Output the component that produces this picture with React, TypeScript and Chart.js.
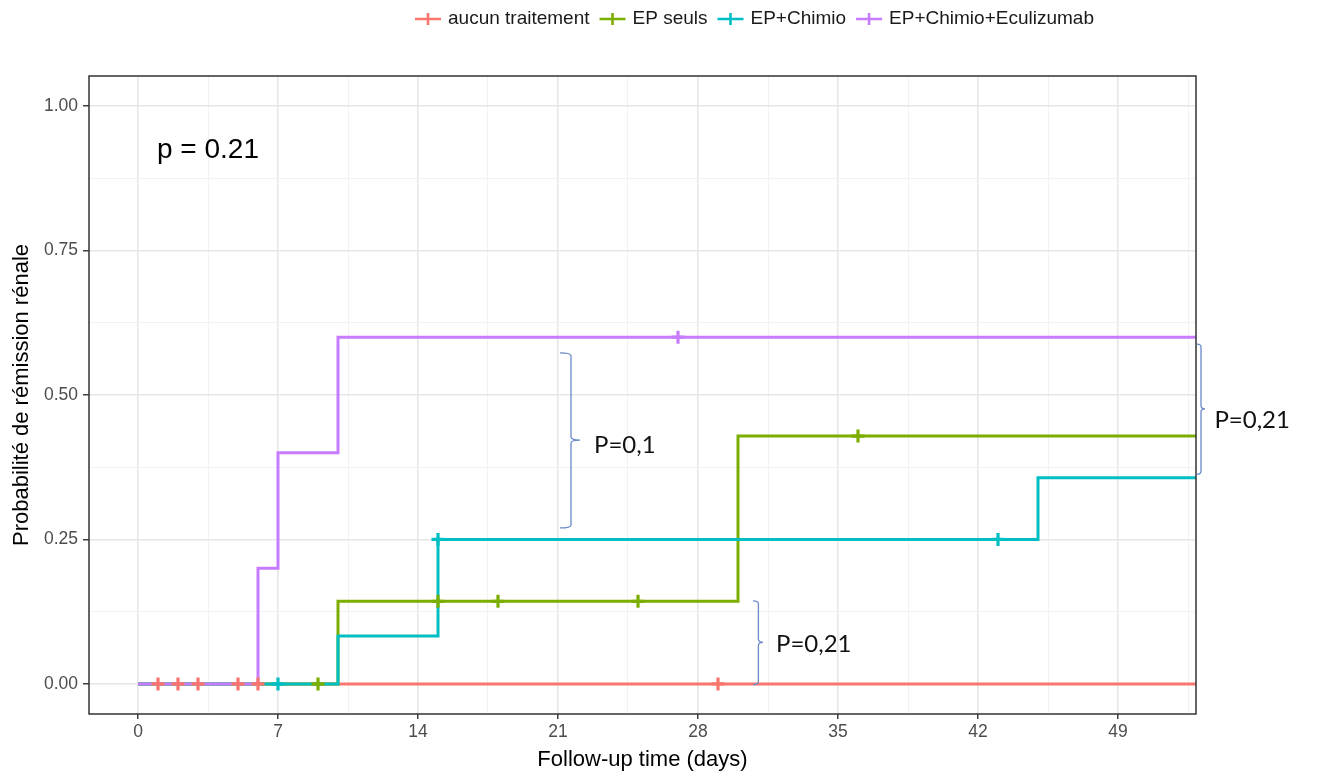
import React, { useEffect, useRef } from "react";
import { Chart, registerables } from "chart.js";

Chart.register(...registerables);

const W = 1317;
const H = 776;

// ---- series ----
const seriesNames = ["aucun traitement", "EP seuls", "EP+Chimio", "EP+Chimio+Eculizumab"];
const seriesColors = ["#F8766D", "#7CAE00", "#00BFC4", "#C77CFF"];

const followUpEnd = 53;

// step times (value changes at the time) and probabilities
const redTimes = [0];
const redSurv = [0];
const greenTimes = [0, 10, 30];
const greenSurv = [0, 0.143, 0.429];
const cyanTimes = [0, 10, 15, 45];
const cyanSurv = [0, 0.083, 0.25, 0.357];
const purpleTimes = [0, 6, 7, 10];
const purpleSurv = [0, 0.2, 0.4, 0.6];

// censored observations
const redCensorTimes = [1, 2, 3, 5, 6, 29];
const redCensorSurv = [0, 0, 0, 0, 0, 0];
const greenCensorTimes = [9, 15, 18, 25, 36];
const greenCensorSurv = [0, 0.143, 0.143, 0.143, 0.429];
const cyanCensorTimes = [7, 15, 43];
const cyanCensorSurv = [0, 0.25, 0.25];
const purpleCensorTimes = [27];
const purpleCensorSurv = [0.6];

// ---- axes ----
const xMajorTicks = [0, 7, 14, 21, 28, 35, 42, 49];
const xTickLabels = ["0", "7", "14", "21", "28", "35", "42", "49"];
const xMinorTicks = [3.5, 10.5, 17.5, 24.5, 31.5, 38.5, 45.5, 52.5];
const yMajorTicks = [0, 0.25, 0.5, 0.75, 1];
const yTickLabels = ["0.00", "0.25", "0.50", "0.75", "1.00"];
const yMinorTicks = [0.125, 0.375, 0.625, 0.875];

const xTitle = "Follow-up time (days)";
const yTitle = "Probabilité de rémission rénale";
const pValueText = "p = 0.21";

// annotations (data coordinates)
const pValuePos = { x: 0.95, y: 0.924 };
const braces = [
  { tipX: 21.1, spineX: 21.65, top: 0.573, bottom: 0.27, mid: 0.422, pointX: 22.1, label: "P=0,1", labelX: 22.8, labelY: 0.413 },
  { tipX: 30.75, spineX: 31.02, top: 0.1436, bottom: -0.001, mid: 0.072, pointX: 31.25, label: "P=0,21", labelX: 31.9, labelY: 0.068 },
  { tipX: 52.95, spineX: 53.15, top: 0.588, bottom: 0.363, mid: 0.476, pointX: 53.35, label: "P=0,21", labelX: 53.82, labelY: 0.457 },
];

const stepPoints = (times: number[], surv: number[]) =>
  times.map((t, i) => ({ x: t, y: surv[i] })).concat([{ x: followUpEnd, y: surv[surv.length - 1] }]);
const censorPoints = (times: number[], surv: number[]) => times.map((t, i) => ({ x: t, y: surv[i] }));

const isXMajor = (v: number) => xMajorTicks.indexOf(v) >= 0;
const isYMajor = (v: number) => yMajorTicks.some((m) => Math.abs(m - v) < 1e-9);

const FONT = "'Liberation Sans', Arial, sans-serif";

const overlayPlugin = {
  id: "overlay",
  afterDraw(chart: any) {
    const { ctx, chartArea, scales } = chart;
    const xs = scales.x;
    const ys = scales.y;
    ctx.save();
    // panel border
    ctx.strokeStyle = "#333333";
    ctx.lineWidth = 1.5;
    ctx.strokeRect(chartArea.left, chartArea.top, chartArea.right - chartArea.left, chartArea.bottom - chartArea.top);

    // p value
    ctx.fillStyle = "#000";
    ctx.font = `28px ${FONT}`;
    ctx.textAlign = "left";
    ctx.textBaseline = "middle";
    ctx.fillText(pValueText, xs.getPixelForValue(pValuePos.x), ys.getPixelForValue(pValuePos.y));

    // braces
    braces.forEach((b) => {
      const xl = xs.getPixelForValue(b.tipX);
      const xv = xs.getPixelForValue(b.spineX);
      const xp = xs.getPixelForValue(b.pointX);
      const yt = ys.getPixelForValue(b.top);
      const yb = ys.getPixelForValue(b.bottom);
      const ym = ys.getPixelForValue(b.mid);
      const r = 3;
      ctx.beginPath();
      ctx.moveTo(xl, yt);
      ctx.quadraticCurveTo(xv, yt, xv, yt + r);
      ctx.lineTo(xv, ym - r);
      ctx.quadraticCurveTo(xv, ym, xp, ym);
      ctx.quadraticCurveTo(xv, ym, xv, ym + r);
      ctx.lineTo(xv, yb - r);
      ctx.quadraticCurveTo(xv, yb, xl, yb);
      ctx.strokeStyle = "#6A8AC8";
      ctx.lineWidth = 1.3;
      ctx.stroke();
      ctx.fillStyle = "#111";
      ctx.font = `24px Lato, 'Open Sans', sans-serif`;
      ctx.textAlign = "left";
      ctx.textBaseline = "middle";
      ctx.fillText(b.label, xs.getPixelForValue(b.labelX), ys.getPixelForValue(b.labelY));
    });

    // legend
    ctx.font = `19px ${FONT}`;
    ctx.textBaseline = "middle";
    let x = 415;
    const y = 19;
    seriesNames.forEach((name, i) => {
      const col = seriesColors[i];
      ctx.strokeStyle = col;
      ctx.lineWidth = 2.6;
      ctx.beginPath();
      ctx.moveTo(x, y);
      ctx.lineTo(x + 26, y);
      ctx.moveTo(x + 13, y - 6);
      ctx.lineTo(x + 13, y + 6);
      ctx.stroke();
      ctx.fillStyle = "#1a1a1a";
      ctx.fillText(name, x + 33, y);
      x += 33 + ctx.measureText(name).width + 10;
    });
    ctx.restore();
  },
};

export default function App() {
  const ref = useRef<HTMLCanvasElement>(null);

  useEffect(() => {
    const canvas = ref.current;
    if (!canvas) return;

    const lineSets = [
      [redTimes, redSurv],
      [greenTimes, greenSurv],
      [cyanTimes, cyanSurv],
      [purpleTimes, purpleSurv],
    ].map(([t, s], i) => ({
      type: "line" as const,
      label: seriesNames[i],
      data: stepPoints(t, s),
      borderColor: seriesColors[i],
      backgroundColor: seriesColors[i],
      borderWidth: 3,
      stepped: true,
      pointRadius: 0,
      fill: false,
      borderJoinStyle: "miter" as const,
      borderCapStyle: "butt" as const,
      order: 8 - i,
    }));

    const censorSets = [
      [redCensorTimes, redCensorSurv],
      [greenCensorTimes, greenCensorSurv],
      [cyanCensorTimes, cyanCensorSurv],
      [purpleCensorTimes, purpleCensorSurv],
    ].map(([t, s], i) => ({
      type: "line" as const,
      label: seriesNames[i] + " (censure)",
      data: censorPoints(t, s),
      showLine: false,
      pointStyle: "cross" as const,
      pointRadius: 6.5,
      pointBorderWidth: 3.2,
      pointBorderColor: seriesColors[i],
      pointBackgroundColor: seriesColors[i],
      borderColor: seriesColors[i],
      order: 4 - i,
    }));

    const chart = new Chart(canvas, {
      type: "line",
      data: { datasets: [...lineSets, ...censorSets] as any },
      options: {
        responsive: false,
        animation: false,
        devicePixelRatio: 1,
        layout: { padding: { top: 76, right: W - 1196, left: 0, bottom: 0 } },
        plugins: { legend: { display: false }, tooltip: { enabled: false } },
        scales: {
          x: {
            type: "linear",
            min: -2.45,
            max: 52.9,
            afterFit: (scale: any) => {
              scale.height = 62;
            },
            afterBuildTicks: (scale: any) => {
              scale.ticks = [...xMajorTicks, ...xMinorTicks].sort((a, b) => a - b).map((v) => ({ value: v }));
            },
            ticks: {
              autoSkip: false,
              maxRotation: 0,
              padding: 3,
              color: "#4D4D4D",
              font: { size: 17.5, family: FONT },
              callback: (v: any) => {
                const i = xMajorTicks.indexOf(Number(v));
                return i >= 0 ? xTickLabels[i] : "";
              },
            },
            grid: {
              color: (c: any) => (isXMajor(c.tick.value) ? "#E6E6E6" : "#F2F2F2"),
              lineWidth: (c: any) => (isXMajor(c.tick.value) ? 1.5 : 1),
              tickColor: (c: any) => (isXMajor(c.tick.value) ? "#333333" : "rgba(0,0,0,0)"),
              tickWidth: 1.4,
              tickLength: 5,
              drawTicks: true,
            },
            border: { display: false },
            title: {
              display: true,
              text: xTitle,
              color: "#000",
              font: { size: 22, family: FONT },
              padding: { top: 0, bottom: 3 },
            },
          },
          y: {
            type: "linear",
            min: -0.052,
            max: 1.052,
            afterFit: (scale: any) => {
              scale.width = 89;
            },
            afterBuildTicks: (scale: any) => {
              scale.ticks = [...yMajorTicks, ...yMinorTicks].sort((a, b) => a - b).map((v) => ({ value: v }));
            },
            ticks: {
              autoSkip: false,
              padding: 5,
              color: "#4D4D4D",
              font: { size: 17.5, family: FONT },
              callback: (v: any) => {
                const i = yMajorTicks.findIndex((m) => Math.abs(m - Number(v)) < 1e-9);
                return i >= 0 ? yTickLabels[i] : "";
              },
            },
            grid: {
              color: (c: any) => (isYMajor(c.tick.value) ? "#E6E6E6" : "#F2F2F2"),
              lineWidth: (c: any) => (isYMajor(c.tick.value) ? 1.5 : 1),
              tickColor: (c: any) => (isYMajor(c.tick.value) ? "#333333" : "rgba(0,0,0,0)"),
              tickWidth: 1.4,
              tickLength: 6,
              drawTicks: true,
            },
            border: { display: false },
            title: {
              display: true,
              text: yTitle,
              color: "#000",
              font: { size: 22, family: FONT },
              padding: { top: 9, bottom: 0 },
            },
          },
        },
      },
      plugins: [overlayPlugin],
    } as any);

    return () => chart.destroy();
  }, []);

  return (
    <div style={{ position: "fixed", left: 0, top: 0, width: W, height: H, background: "#fff" }}>
      <canvas ref={ref} width={W} height={H} style={{ width: W, height: H, display: "block" }} />
    </div>
  );
}
